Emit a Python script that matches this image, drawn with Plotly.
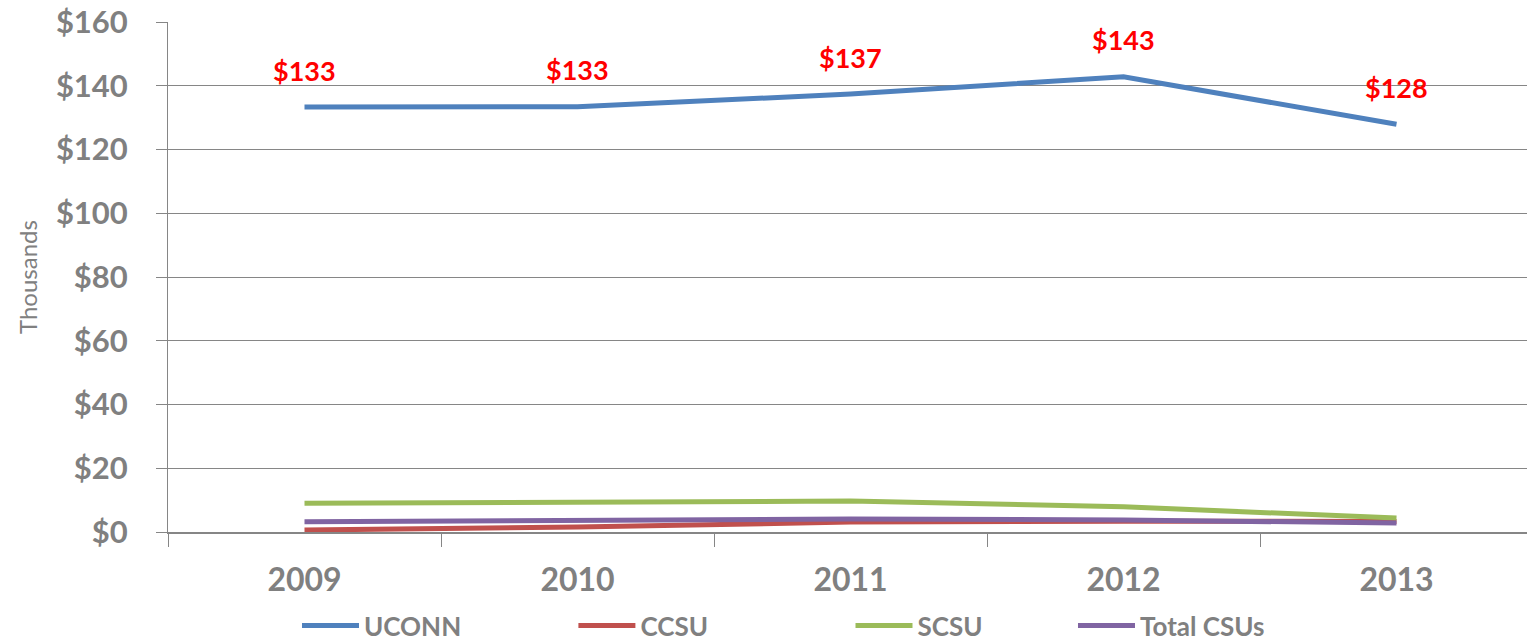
import plotly.graph_objects as go

years = ["2009", "2010", "2011", "2012", "2013"]
uconn = [133.3, 133.4, 137.4, 142.8, 127.9]
ccsu = [0.6, 1.6, 3.1, 3.4, 3.3]
scsu = [9.0, 9.4, 9.7, 7.9, 4.4]
total_csus = [3.2, 3.5, 4.1, 3.8, 2.8]
uconn_labels = ["$133", "$133", "$137", "$143", "$128"]
y_ticks = [0, 20, 40, 60, 80, 100, 120, 140, 160]
y_tick_text = ["$" + str(v) for v in y_ticks]

FONT = "Lato"
GRAY = "#808080"
AX = "#868686"

fig = go.Figure()
series = [
    ("UCONN", uconn, "#4F81BD", "legend", 0.0945),
    ("CCSU", ccsu, "#C0504D", "legend2", 0.297),
    ("SCSU", scsu, "#9BBB59", "legend3", 0.500),
    ("Total CSUs", total_csus, "#8064A2", "legend4", 0.663),
]
legend_layout = {}
for name, vals, color, lg, lx in series:
    fig.add_trace(go.Scatter(
        x=years, y=vals, name=name, mode="lines", legend=lg,
        line=dict(color=color, width=5), hoverinfo="x+y+name",
    ))
    legend_layout[lg] = dict(
        x=lx, xanchor="left", y=0.027, yanchor="middle", yref="container",
        font=dict(family=FONT, size=26, color=GRAY, weight="bold"),
        itemwidth=57, bgcolor="rgba(0,0,0,0)", borderwidth=0,
    )

annotations = []
for i, (y, t) in enumerate(zip(uconn, uconn_labels)):
    annotations.append(dict(
        x=i, y=y, xref="x", yref="y", text="<b>" + t + "</b>", showarrow=False,
        yshift=37, font=dict(family=FONT, size=27, color="#FF0000"),
    ))
annotations.append(dict(
    x=-0.1033, y=0.5, xref="paper", yref="paper", text="Thousands", showarrow=False,
    textangle=-90, xanchor="center", yanchor="middle",
    font=dict(family=FONT, size=24, color=GRAY),
))

fig.update_layout(
    width=1533, height=643,
    margin=dict(l=168, r=0, t=22, b=111, autoexpand=False),
    paper_bgcolor="white", plot_bgcolor="white",
    font=dict(family=FONT, color=GRAY),
    showlegend=True,
    annotations=annotations,
    **legend_layout,
)
fig.update_xaxes(
    type="category", range=[-0.5, 4.5], tickson="boundaries", automargin=False,
    ticks="outside", ticklen=13, tickcolor=AX, tickwidth=1,
    showline=True, linecolor=AX, linewidth=2,
    showgrid=False, zeroline=False, ticklabelstandoff=19,
    tickfont=dict(family=FONT, size=32, color=GRAY, weight="bold"),
)
fig.update_yaxes(
    range=[0, 160], tickvals=y_ticks, ticktext=y_tick_text, automargin=False,
    ticks="outside", ticklen=11, tickcolor=AX,
    showline=True, linecolor=AX, linewidth=1, ticklabelstandoff=22,
    showgrid=True, gridcolor=AX, gridwidth=1, zeroline=False,
    tickfont=dict(family=FONT, size=31, color=GRAY, weight="bold"),
)

fig.write_html(
    "out.html",
    config={"displayModeBar": False},
    post_script="document.body.style.margin='0';document.body.style.overflow='hidden';",
)
